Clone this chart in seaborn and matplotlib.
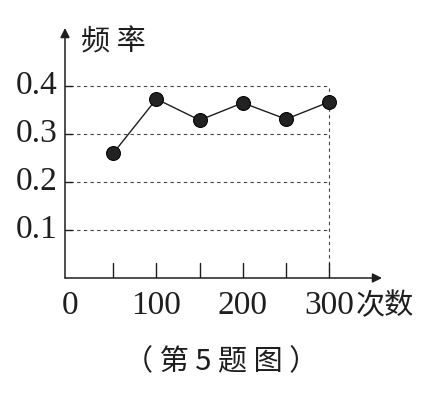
import matplotlib
matplotlib.use("Agg")
import matplotlib.pyplot as plt
import seaborn as sns
import pandas as pd

# data
trials = [50, 100, 150, 200, 250, 300]
freq = [0.26, 0.373, 0.329, 0.365, 0.331, 0.367]
yticks = [0.1, 0.2, 0.3, 0.4]
ytick_labels = ["0.1", "0.2", "0.3", "0.4"]
xticks = [50, 100, 150, 200, 250, 300]
xlabel_ticks = [0, 100, 200, 300]
ylabel_text = "频 率"
xlabel_text = "次数"
caption = "（ 第 5 题 图 ）"

sns.set_theme(style="white")
FAM = ["Liberation Serif", "Noto Sans CJK SC", "DejaVu Sans"]
plt.rcParams["font.family"] = FAM

W, H = 438, 399
fig = plt.figure(figsize=(W / 100, H / 100), dpi=100)
left_px, right_px, bottom_px, top_px = 65, 382, 278, 28
ax = fig.add_axes([left_px / W, 1 - bottom_px / H, (right_px - left_px) / W, (bottom_px - top_px) / H])
ax.set_xlim(-5.8, 361)
ax.set_ylim(0, 0.521)
ax.set_facecolor("none")
for s in ax.spines.values():
    s.set_visible(False)

ink = "#1e1e1e"
df = pd.DataFrame({"trials": trials, "freq": freq})

# dashed guide lines
xmax = max(trials)
for yv in yticks:
    ax.plot([0, xmax], [yv, yv], ls=(0, (3, 3)), color="#444444", lw=0.8, zorder=1)
ax.plot([xmax, xmax], [0, max(yticks)], ls=(0, (3, 3)), color="#444444", lw=0.8, zorder=1)

sns.lineplot(data=df, x="trials", y="freq", ax=ax, color=ink, lw=1.0,
             marker="o", markersize=10, markeredgecolor="black", markerfacecolor="#222222", zorder=3)

# axes with arrows
ax.annotate("", xy=(361, 0), xytext=(-5.8, 0), xycoords="data",
            arrowprops=dict(arrowstyle="-|>", color=ink, lw=1.1, mutation_scale=14, shrinkA=0, shrinkB=0),
            annotation_clip=False)
ax.annotate("", xy=(-5.8, 0.521), xytext=(-5.8, 0), xycoords="data",
            arrowprops=dict(arrowstyle="-|>", color=ink, lw=1.1, mutation_scale=14, shrinkA=0, shrinkB=0),
            annotation_clip=False)

# ticks
for xv in xticks:
    ax.plot([xv, xv], [0, 0.031], color=ink, lw=1.0, zorder=2)
for yv in yticks:
    ax.plot([-5.8, 2], [yv, yv], color=ink, lw=1.0, zorder=2)

ax.set_xticks([])
ax.set_yticks([])
ax.set_xlabel("")
ax.set_ylabel("")

fs = 24
for yv, lab in zip(yticks, ytick_labels):
    ax.text(-14, yv, lab, ha="right", va="center", fontsize=fs, color=ink, family=FAM)
for xv in xlabel_ticks:
    ax.text(xv, -0.058, str(xv), ha="center", va="center", fontsize=fs, color=ink, family=FAM)
ax.text(331, -0.058, xlabel_text, ha="left", va="center", fontsize=21, color=ink, family=["Noto Sans CJK SC"])
ax.text(13, 0.49, ylabel_text, ha="left", va="center", fontsize=21, color=ink, family=["Noto Sans CJK SC"])
fig.text(0.505, 1 - 362 / H, caption, ha="center", va="center", fontsize=21, color=ink,
         family=["Noto Sans CJK SC", "Liberation Serif"])

fig.savefig("out.png", dpi=100, facecolor="white")
